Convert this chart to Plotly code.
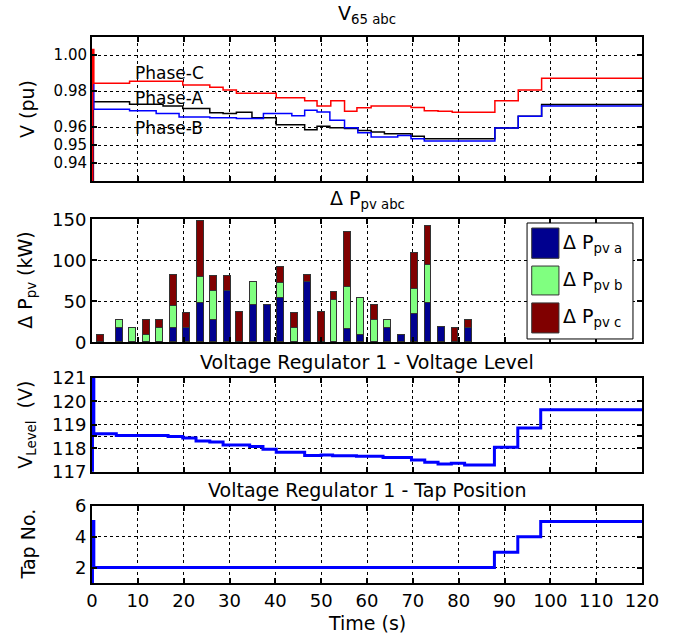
import plotly.graph_objects as go

# ---------------- data ----------------
# Panel 1: V65 abc (pu), step signals
t_A = [0, 0.3, 8.2, 15.5, 19.8, 25.7, 28.6, 31.5, 34.9, 40.2, 46.4, 49.1, 51.9, 55.1, 58.0, 60.9, 63.8, 69.6, 72.5, 87.9, 93.0, 98.1, 120]
v_A = [0.90, 0.9740, 0.9727, 0.9716, 0.9703, 0.9679, 0.9675, 0.9682, 0.9652, 0.9613, 0.9585, 0.9604, 0.9596, 0.9591, 0.9581, 0.9572, 0.9563, 0.9548, 0.9535, 0.9594, 0.9660, 0.9725, 0.9725]

t_B = [0, 0.15, 0.4, 8.2, 14.0, 19.0, 25.7, 31.5, 37.4, 43.6, 46.4, 49.1, 51.9, 55.1, 58.0, 60.9, 66.7, 69.6, 72.5, 87.9, 93.0, 98.1, 120]
v_B = [0.90, 0.984, 0.9699, 0.9690, 0.9675, 0.9656, 0.9652, 0.9647, 0.9675, 0.9662, 0.9693, 0.9684, 0.9637, 0.9596, 0.9568, 0.9544, 0.9553, 0.9535, 0.9522, 0.9594, 0.9660, 0.9716, 0.9716]

t_C = [0, 0.15, 0.4, 8.2, 19.8, 25.7, 28.6, 31.5, 40.2, 46.4, 49.1, 52.1, 55.1, 57.8, 60.9, 69.6, 72.5, 75.5, 78.6, 87.9, 93.0, 98.1, 120]
v_C = [0.90, 1.003, 0.9843, 0.9854, 0.9834, 0.9821, 0.9806, 0.9787, 0.9763, 0.9746, 0.9716, 0.9746, 0.9688, 0.9707, 0.9716, 0.9708, 0.9690, 0.9688, 0.9682, 0.9746, 0.9806, 0.9871, 0.9871]

# Panel 2: Delta P pv (kW), stacked bars
bar_t = [1.9, 6.0, 8.9, 11.9, 14.8, 17.7, 20.6, 23.6, 26.5, 29.5, 32.2, 35.3, 38.2, 41.1, 44.1,
         47.0, 50.0, 52.8, 55.7, 58.6, 61.6, 64.5, 67.5, 70.4, 73.3, 76.3, 79.2, 82.1]
p_a = [0, 17, 0, 0, 0, 17, 17, 47, 27, 62, 0, 45, 45, 54, 0,
       72.6, 0, 0, 15.6, 8, 0, 17, 8, 33.6, 47, 18, 0, 17]
p_b = [0, 9.5, 17, 8, 17, 27.5, 0, 31.7, 35, 0, 0, 28, 0, 18, 17,
       0, 0, 51, 51.6, 46, 26.6, 9.5, 0, 31.6, 47, 0, 0, 0]
p_c = [8, 0, 0, 18.5, 9.5, 37, 18.7, 69, 19, 19, 36, 0, 0, 19, 18.7,
       9, 36, 9.5, 66.5, 0, 18, 0, 0, 43.5, 48, 0, 17, 9.5]

# Panel 3: regulator voltage level (V)
t_V = [0, 0.1, 0.4, 5.3, 16.6, 19.8, 22.7, 25.7, 28.6, 34.4, 37.3, 40.2, 46.4, 50.0, 52.5, 57.7,
       63.5, 69.7, 72.6, 75.5, 78.4, 81.3, 87.8, 92.9, 97.9, 120]
v_V = [117.0, 120.93, 118.61, 118.54, 118.50, 118.43, 118.31, 118.26, 118.14, 118.07, 117.96, 117.83,
       117.69, 117.71, 117.68, 117.66, 117.60, 117.50, 117.40, 117.33, 117.36, 117.29, 118.04, 118.86,
       119.64, 119.64]

# Panel 4: tap position
t_T = [0, 0.1, 0.4, 87.8, 92.9, 97.9, 120]
v_T = [1, 5, 2, 3, 4, 5, 5]

x_ticks = list(range(0, 121, 10))
y1_ticks = [0.94, 0.95, 0.96, 0.98, 1.00]
y1_text = ["0.94", "0.95", "0.96", "0.98", "1.00"]
y2_ticks = [0, 50, 100, 150]
y3_ticks = [117, 118, 119, 120, 121]
y3_minor = [118.5]
y4_ticks = [2, 4, 6]

FONT = "DejaVu Sans"
C_A, C_B, C_C = "#00008F", "#80FF80", "#800000"

fig = go.Figure()

# Panel 1 lines
fig.add_trace(go.Scatter(x=t_A, y=v_A, mode="lines", line=dict(color="black", width=1.5, shape="hv"),
                         xaxis="x", yaxis="y", showlegend=False))
fig.add_trace(go.Scatter(x=t_B, y=v_B, mode="lines", line=dict(color="#0000FF", width=1.5, shape="hv"),
                         xaxis="x", yaxis="y", showlegend=False))
fig.add_trace(go.Scatter(x=t_C, y=v_C, mode="lines", line=dict(color="#FF0000", width=1.5, shape="hv"),
                         xaxis="x", yaxis="y", showlegend=False))

# Panel 2 bars
for vals, col in [(p_a, C_A), (p_b, C_B), (p_c, C_C)]:
    fig.add_trace(go.Bar(x=bar_t, y=vals, width=1.5, marker=dict(color=col, line=dict(color="#333333", width=1)),
                         xaxis="x2", yaxis="y2", showlegend=False))

# Panel 3, 4 lines
fig.add_trace(go.Scatter(x=t_V, y=v_V, mode="lines", line=dict(color="#0000FF", width=3, shape="hv"),
                         xaxis="x3", yaxis="y3", showlegend=False))
fig.add_trace(go.Scatter(x=t_T, y=v_T, mode="lines", line=dict(color="#0000FF", width=3, shape="hv"),
                         xaxis="x4", yaxis="y4", showlegend=False))

# ---------------- layout ----------------
W, H = 675, 639
ml, mr, mt, mb = 92, 33, 37, 56
ph = H - mt - mb


def ydom(top_px, bot_px):
    return [(H - mb - bot_px) / ph, (H - mb - top_px) / ph]


axis_common = dict(showline=True, linecolor="black", linewidth=2, mirror="ticks",
                   ticks="inside", ticklen=5, tickwidth=2, tickcolor="black",
                   showgrid=True, gridcolor="black", gridwidth=1, griddash="dot",
                   zeroline=False, tickfont=dict(family=FONT, size=18, color="black"))

xa = dict(axis_common, range=[0, 120], tickvals=x_ticks, domain=[0, 1])

fig.update_layout(
    width=W, height=H,
    margin=dict(l=ml, r=mr, t=mt, b=mb),
    paper_bgcolor="white", plot_bgcolor="white",
    font=dict(family=FONT, size=18, color="black"),
    barmode="stack", bargap=0,
    xaxis=dict(xa, anchor="y", showticklabels=False),
    xaxis2=dict(xa, anchor="y2", matches="x", showticklabels=False),
    xaxis3=dict(xa, anchor="y3", matches="x", showticklabels=False),
    xaxis4=dict(xa, anchor="y4", matches="x", showticklabels=True),
    yaxis=dict(axis_common, domain=ydom(37, 181), range=[0.93, 1.01], tickvals=y1_ticks, ticktext=y1_text,
               tickfont=dict(family=FONT, size=15, color="black")),
    yaxis2=dict(axis_common, domain=ydom(219.3, 342.3), range=[0, 150], tickvals=y2_ticks),
    yaxis3=dict(axis_common, domain=ydom(377.7, 471.7), range=[117, 121], tickvals=y3_ticks,
                minor=dict(tickmode="array", tickvals=y3_minor, ticks="inside", ticklen=5, tickwidth=2,
                           tickcolor="black", showgrid=True, gridcolor="black", gridwidth=1, griddash="dot")),
    yaxis4=dict(axis_common, domain=ydom(506, 583), range=[1, 6], tickvals=y4_ticks),
)

ann = []
tfont = dict(family=FONT, size=19, color="black")
# panel titles
ann.append(dict(text="V<sub>65 abc</sub>", xref="x domain", yref="y domain", x=0.5, y=1,
                xanchor="center", yanchor="bottom", yshift=8, showarrow=False, font=tfont))
ann.append(dict(text="Δ P<sub>pv abc</sub>", xref="x2 domain", yref="y2 domain", x=0.5, y=1,
                xanchor="center", yanchor="bottom", yshift=5, showarrow=False, font=tfont))
ann.append(dict(text="Voltage Regulator 1 - Voltage Level", xref="x3 domain", yref="y3 domain", x=0.5, y=1,
                xanchor="center", yanchor="bottom", yshift=3, showarrow=False, font=tfont))
ann.append(dict(text="Voltage Regulator 1 - Tap Position", xref="x4 domain", yref="y4 domain", x=0.5, y=1,
                xanchor="center", yanchor="bottom", yshift=3, showarrow=False, font=tfont))
# y-axis titles
yx = (27 - ml) / (W - ml - mr)
for yr, txt in [("y", "V (pu)"), ("y2", "Δ P<sub>pv</sub> (kW)"), ("y3", "V<sub>Level</sub>  (V)"), ("y4", "Tap No.")]:
    ann.append(dict(text=txt, xref="paper", yref=yr + " domain", x=yx, y=0.5, xanchor="center",
                    yanchor="middle", textangle=-90, showarrow=False, font=tfont))
# x-axis title
ann.append(dict(text="Time (s)", xref="paper", yref="paper", x=0.5, y=(H - mb - 623) / ph,
                xanchor="center", yanchor="middle", showarrow=False, font=tfont))
# phase labels
pfont = dict(family=FONT, size=17, color="black")
for txt, yv in [("Phase-C", 0.9902), ("Phase-A", 0.9759), ("Phase-B", 0.9596)]:
    ann.append(dict(text=txt, xref="x", yref="y", x=8.9, y=yv, xanchor="left", yanchor="middle",
                    showarrow=False, font=pfont))

# manual legend for the bar panel
shapes = [dict(type="rect", xref="x2 domain", yref="y2 domain", x0=0.791, x1=0.9836, y0=0.027, y1=0.970,
               line=dict(color="black", width=1), fillcolor="white", layer="above")]
leg = [(C_A, "Δ P<sub>pv a</sub>", 0.929, 0.683), (C_B, "Δ P<sub>pv b</sub>", 0.620, 0.385),
       (C_C, "Δ P<sub>pv c</sub>", 0.320, 0.076)]
for col, txt, ytop, ybot in leg:
    shapes.append(dict(type="rect", xref="x2 domain", yref="y2 domain", x0=0.7995, x1=0.849, y0=ybot, y1=ytop,
                       line=dict(color="#333333", width=1), fillcolor=col, layer="above"))
    ann.append(dict(text=txt, xref="x2 domain", yref="y2 domain", x=0.853, y=(ytop + ybot) / 2,
                    xanchor="left", yanchor="middle", showarrow=False, font=tfont))

fig.update_layout(annotations=ann, shapes=shapes)
fig.write_html("out.html")
